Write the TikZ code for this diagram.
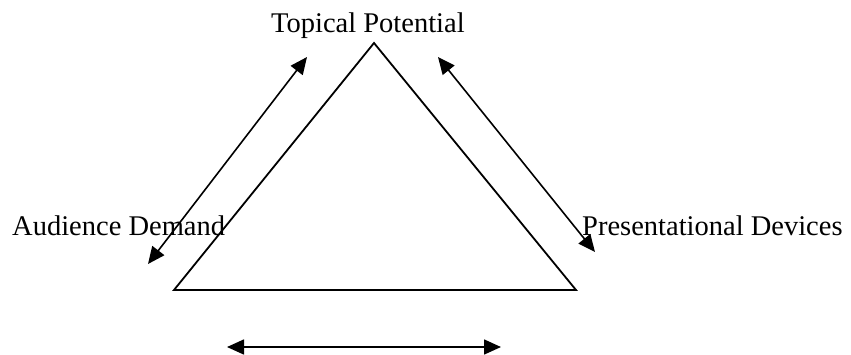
\documentclass[tikz,border=0pt]{standalone}
\usepackage{fontspec}
\setmainfont{Liberation Serif}
\usetikzlibrary{arrows.meta}
\begin{document}
\begin{tikzpicture}[x=1pt,y=-1pt,
  lbl/.style={inner sep=0pt,anchor=base west,font=\fontsize{28.5}{34}\selectfont},
  edge/.style={line width=1.8pt,line join=miter},
  dbl/.style={line width=1.6pt,{Triangle[length=17pt,width=15pt]}-{Triangle[length=17pt,width=15pt]}}]
\useasboundingbox (0,0) rectangle (851,354);
\coordinate (apex) at (374,43);
\coordinate (bl) at (174,290);
\coordinate (br) at (576,290);
\draw[edge] (apex) -- (br) -- (bl) -- cycle;
\node[lbl] (tp) at (271,32) {Topical Potential};
\node[lbl] (ad) at (12,235) {Audience Demand};
\node[lbl] (pd) at (582,235) {Presentational Devices};
\coordinate (l1) at (148,264);
\coordinate (l2) at (307,57);
\coordinate (r1) at (438,57);
\coordinate (r2) at (595,252);
\coordinate (b1) at (227,347);
\coordinate (b2) at (501,347);
\draw[dbl] (l1) -- (l2);
\draw[dbl] (r1) -- (r2);
\draw[dbl] (b1) -- (b2);
\end{tikzpicture}
\end{document}
